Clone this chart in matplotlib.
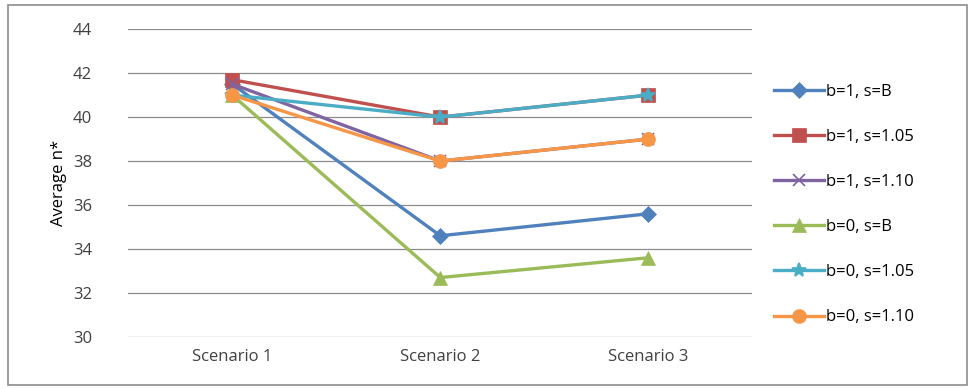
import numpy as np
import matplotlib
matplotlib.use("Agg")
import matplotlib.pyplot as plt
from matplotlib.patches import Rectangle

plt.rcParams['font.family'] = ['Open Sans', 'DejaVu Sans']

scenarios = ["Scenario 1", "Scenario 2", "Scenario 3"]
labels = ["b=1, s=B", "b=1, s=1.05", "b=1, s=1.10", "b=0, s=B", "b=0, s=1.05", "b=0, s=1.10"]
b1_sB = [41.5, 34.6, 35.6]
b1_s105 = [41.7, 40.0, 41.0]
b1_s110 = [41.5, 38.0, 39.0]
b0_sB = [41.0, 32.7, 33.6]
b0_s105 = [41.0, 40.0, 41.0]
b0_s110 = [41.0, 38.0, 39.0]
yticks = [30, 32, 34, 36, 38, 40, 42, 44]

series = [b1_sB, b1_s105, b1_s110, b0_sB, b0_s105, b0_s110]
colors = ['#4F81BD', '#C0504D', '#8064A2', '#9BBB59', '#4BACC6', '#F79646']
markers = ['D', 's', 'x', '^', '*', 'o']
msizes = [8, 10, 9, 10, 10, 10]

fig = plt.figure(figsize=(9.72, 3.89), dpi=100)
ax = fig.add_axes([0.132, 0.134, 0.642, 0.791])

x = np.arange(len(scenarios))
for vals, lab, c, m, ms in zip(series, labels, colors, markers, msizes):
    ax.plot(x, vals, color=c, lw=2.4, marker=m, markersize=ms, label=lab,
            markeredgewidth=1.2 if m in ('x', '*') else 0.5, markeredgecolor=c)

ax.set_xlim(-0.5, 2.5)
ax.set_ylim(30, 44)
ax.set_yticks(yticks)
ax.set_xticks(x)
ax.set_xticklabels(scenarios)
ax.grid(axis='y', color='#8C8C8C', lw=0.9)
ax.set_axisbelow(True)
for s in ax.spines.values():
    s.set_visible(False)
ax.tick_params(length=0, labelsize=12, colors='#404040')
ax.tick_params(axis='y', pad=26)
ax.tick_params(axis='x', pad=9)
ax.set_ylabel("Average n*", fontsize=12, labelpad=4)

ax.legend(loc='center left', bbox_to_anchor=(1.01, 0.43), frameon=False,
          fontsize=12, handlelength=3.0, labelspacing=1.75, handletextpad=0.15)

fig.patches.append(Rectangle((0.008, 0.01), 0.987, 0.977, transform=fig.transFigure,
                             fill=False, edgecolor='#8C8C8C', lw=1.2))

fig.savefig("out.png", dpi=100)
